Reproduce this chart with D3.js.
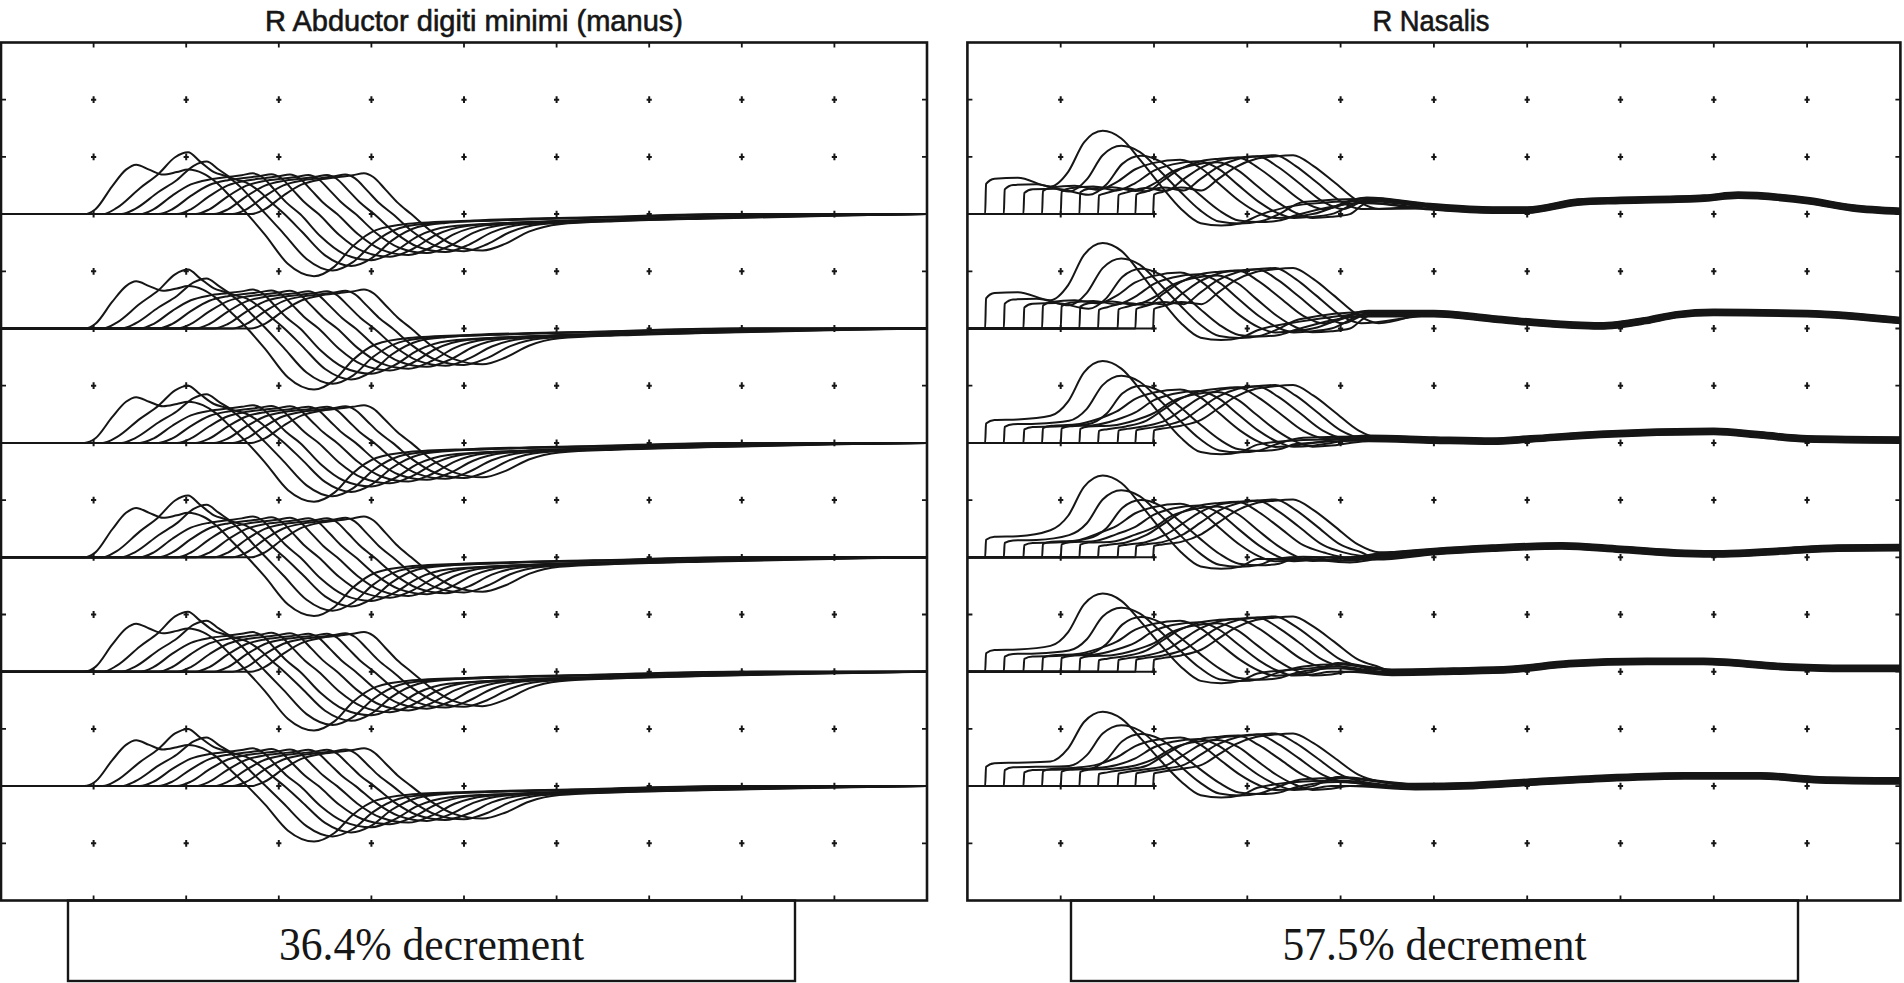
<!DOCTYPE html>
<html>
<head>
<meta charset="utf-8">
<script src="https://cdn.jsdelivr.net/npm/d3@7"></script>
<style>
  body { margin: 0; background: #fff; }
</style>
</head>
<body>
<div id="chart"></div>
<script>
// titles and labels
const titles = ["R Abductor digiti minimi (manus)", "R Nasalis"];
const decrements = ["36.4% decrement", "57.5% decrement"];

// screen grid: 10 x 15 divisions, one sweep every 2 divisions
const baseRows = [3, 5, 7, 9, 11, 13];

// ADM: waveform shapes [time from onset (div), amplitude (div)]
const admShapeA = [[0,0],[0.12,0.08],[0.3,0.45],[0.45,0.72],[0.56,0.8],[0.7,0.72],[0.85,0.64],[1.0,0.68],[1.12,0.72],[1.28,0.66],[1.42,0.52],[1.58,0.28],[1.76,0],[1.95,-0.32],[2.2,-0.78],[2.48,-0.97],[2.7,-0.82],[2.9,-0.5],[3.15,-0.25],[3.5,-0.15],[4.2,-0.1],[5.5,-0.05],[7,0]];
const admShapeB = [[0,0],[0.15,0.1],[0.4,0.42],[0.6,0.65],[0.78,0.92],[0.92,1.0],[1.05,0.85],[1.2,0.68],[1.35,0.6],[1.5,0.42],[1.62,0.22],[1.76,0],[1.95,-0.3],[2.2,-0.7],[2.48,-0.88],[2.7,-0.75],[2.92,-0.45],[3.2,-0.22],[3.5,-0.15],[4.2,-0.1],[5.5,-0.05],[7,0]];
const admShapeC = [[0,0],[0.15,0.08],[0.35,0.3],[0.55,0.48],[0.75,0.56],[0.95,0.6],[1.1,0.63],[1.22,0.66],[1.32,0.6],[1.45,0.4],[1.58,0.19],[1.73,0],[1.95,-0.28],[2.2,-0.5],[2.5,-0.58],[2.75,-0.47],[3.0,-0.28],[3.33,-0.16],[4,-0.11],[5,-0.07],[6.5,-0.02],[8,0]];
const admShapeOf = ["A","B","B","C","C","C","C","C","C","C"];
const admOnsets = [0.9, 1.1, 1.3, 1.5, 1.7, 1.9, 2.1, 2.3, 2.5, 2.7];
const admPos = [1, 1, 0.85, 1.0, 0.98, 0.97, 0.96, 0.96, 0.97, 1.0];
const admNeg = [1, 1, 0.92, 1.24, 1.15, 1.1, 1.05, 1.02, 1.0, 0.98];
const admRowPos = [1.08, 1.03, 1.0, 1.08, 1.05, 1.0];
const admRowNeg = [1.12, 1.1, 1.06, 1.06, 1.06, 1.0];

// Nasalis: shapes start with the stimulus artefact step
const nasShapeA = [[0,0],[0.01,0.34],[0.1,0.40],[0.35,0.41],[0.7,0.43],[0.89,0.66],[1.06,1.12],[1.26,1.30],[1.46,1.18],[1.67,0.83],[1.89,0.43],[2.1,0.08],[2.31,-0.16],[2.53,-0.2],[2.74,-0.16],[2.92,-0.03]];
const nasShapeB = [[0,0],[0.01,0.26],[0.1,0.3],[0.35,0.32],[0.6,0.38],[0.8,0.5],[1.0,0.7],[1.2,0.8],[1.48,0.85],[1.7,0.72],[1.9,0.47],[2.12,0.2],[2.32,0.02],[2.5,-0.07],[2.7,-0.05],[2.9,0.0]];
const nasShapeC = [[0,0],[0.01,0.22],[0.1,0.25],[0.3,0.3],[0.52,0.37],[0.7,0.55],[0.88,0.73],[1.1,0.86],[1.3,0.9],[1.5,0.92],[1.72,0.75],[1.94,0.5],[2.2,0.2],[2.42,0.08]];
const nasShapeOf = ["A","A","A","B","B","B","C","C","C","C"];
const nasOnsets = [0.19, 0.39, 0.6, 0.8, 1.0, 1.2, 1.4, 1.61, 1.8, 1.99];
const nasScale = [1.0, 0.82, 0.7, 1.0, 0.97, 0.95, 0.96, 0.98, 1.0, 1.0];
const nasRowPos = [1.12, 1.15, 1.1, 1.1, 1.05, 1.0];
const nasRowArt = [1.55, 1.55, 1.0, 0.9, 0.95, 1.0];
const nasTailOffset = [0.0, 0.04, -0.03, 0.06, 0.02, -0.04, 0.05, 0.01, -0.02, 0.03];
// late baseline wander, absolute time (div), one per sweep row
const nasTails = [
  [[3.0,0.05],[3.6,0.17],[4.28,0.23],[4.96,0.12],[5.63,0.06],[6.0,0.06],[6.54,0.2],[7.0,0.23],[7.9,0.27],[8.26,0.32],[9.03,0.22],[9.48,0.1],[10,0.04]],
  [[3.56,0.12],[4.3,0.25],[5.0,0.25],[5.63,0.16],[6.04,0.1],[6.78,0.035],[7.28,0.13],[7.6,0.23],[8.0,0.27],[9.0,0.25],[10,0.13]],
  [[3.6,0.05],[4.3,0.07],[5.0,0.04],[5.63,0.02],[6.04,0.06],[6.78,0.14],[8.0,0.19],[8.5,0.13],[9.0,0.06],[10,0.04]],
  [[3.6,-0.03],[4.1,-0.06],[4.39,0],[5.0,0.09],[5.63,0.15],[6.37,0.19],[7.0,0.13],[7.69,0.06],[8.1,0.05],[8.72,0.1],[9.33,0.15],[10,0.16]],
  [[3.6,0.05],[3.97,0.09],[4.55,-0.02],[5.21,0],[5.83,0.03],[6.45,0.13],[7.28,0.17],[7.89,0.17],[8.72,0.08],[9.33,0.05],[10,0.05]],
  [[3.6,0.08],[3.97,0.1],[4.8,-0.02],[5.42,0],[6.04,0.06],[6.86,0.13],[7.69,0.17],[8.5,0.17],[9.13,0.1],[10,0.08]]
];

const admShapes = {A: admShapeA, B: admShapeB, C: admShapeC};
const nasShapes = {A: nasShapeA, B: nasShapeB, C: nasShapeC};

const W = 1904, H = 983;
const frameTop = 42.5, frameBottom = 900.5;
const panels = [
  {x0: 1, x1: 927, titleX: 474, titleW: 418, box: [68, 795], textW: 305},
  {x0: 967.4, x1: 1900.4, titleX: 1431, titleW: 117, box: [1071, 1798], textW: 304}
];

const svg = d3.select('#chart').append('svg')
  .attr('width', W).attr('height', H)
  .style('background', '#fff');

const ink = '#161616';

function admTrace(i, r) {
  const pts = [[0, 0]];
  admShapes[admShapeOf[i]].forEach(([t, v]) => {
    const val = v >= 0 ? v * admPos[i] * admRowPos[r] : v * admNeg[i] * admRowNeg[r];
    if (admOnsets[i] + t <= 10) pts.push([admOnsets[i] + t, val]);
  });
  if (pts[pts.length - 1][0] < 10) pts.push([10, 0]);
  return pts;
}

function nasTrace(i, r) {
  const pts = [[0, 0]];
  const shape = nasShapes[nasShapeOf[i]];
  shape.forEach(([t, v]) => {
    const s = t < 0.5 ? nasScale[i] * nasRowArt[r] : nasScale[i] * nasRowPos[r];
    pts.push([nasOnsets[i] + t, v >= 0 ? v * s : v * nasScale[i]]);
  });
  const last = pts[pts.length - 1][0];
  nasTails[r].forEach(([x, v]) => {
    if (x > last + 0.1) pts.push([x, v + nasTailOffset[i]]);
  });
  return pts;
}

panels.forEach((p, pi) => {
  const x = d3.scaleLinear().domain([0, 10]).range([p.x0, p.x1]);
  const yDiv = d3.scaleLinear().domain([0, 15]).range([frameTop, frameBottom]);
  const g = svg.append('g');

  // title
  g.append('text')
    .attr('x', p.titleX).attr('y', 31)
    .attr('text-anchor', 'middle')
    .attr('font-family', 'Liberation Sans, Arial, sans-serif')
    .attr('font-size', 29)
    .attr('fill', ink)
    .attr('stroke', ink).attr('stroke-width', 0.6)
    .attr('textLength', p.titleW)
    .attr('lengthAdjust', 'spacingAndGlyphs')
    .text(titles[pi]);

  // grid crosses
  const cells = [];
  d3.range(1, 10).forEach(k => d3.range(1, 15).forEach(j => cells.push([k, j])));
  g.selectAll('path.dot').data(cells).enter().append('path')
    .attr('class', 'dot')
    .attr('d', d => `M${x(d[0]) - 2.6},${yDiv(d[1])}H${x(d[0]) + 2.6}M${x(d[0])},${yDiv(d[1]) - 3.4}V${yDiv(d[1]) + 3.4}`)
    .attr('stroke', ink).attr('stroke-width', 2);

  // border ticks
  const ticks = [];
  d3.range(1, 10).forEach(k => {
    ticks.push(`M${x(k)},${frameTop}V${frameTop + 5}`);
    ticks.push(`M${x(k)},${frameBottom}V${frameBottom - 5}`);
  });
  d3.range(1, 15).forEach(j => {
    ticks.push(`M${p.x0},${yDiv(j)}H${p.x0 + 5}`);
    ticks.push(`M${p.x1},${yDiv(j)}H${p.x1 - 5}`);
  });
  g.append('path').attr('d', ticks.join('')).attr('stroke', ink).attr('stroke-width', 1.8);

  // traces
  const clipId = 'clip' + pi;
  svg.append('clipPath').attr('id', clipId).append('rect')
    .attr('x', p.x0).attr('y', frameTop).attr('width', p.x1 - p.x0).attr('height', frameBottom - frameTop);
  const tg = g.append('g').attr('clip-path', `url(#${clipId})`);

  baseRows.forEach((b, r) => {
    const line = d3.line()
      .x(d => x(d[0]))
      .y(d => yDiv(b - d[1]))
      .curve(d3.curveMonotoneX);
    const traces = d3.range(10).map(i => pi === 0 ? admTrace(i, r) : nasTrace(i, r));
    tg.selectAll(null).data(traces).enter().append('path')
      .attr('d', line)
      .attr('fill', 'none')
      .attr('stroke', ink)
      .attr('stroke-width', 2)
      .attr('stroke-linejoin', 'round');
  });

  // frame
  g.append('rect')
    .attr('x', p.x0).attr('y', frameTop)
    .attr('width', p.x1 - p.x0).attr('height', frameBottom - frameTop)
    .attr('fill', 'none').attr('stroke', ink).attr('stroke-width', 2.6);

  // decrement box
  g.append('rect')
    .attr('x', p.box[0]).attr('y', frameBottom)
    .attr('width', p.box[1] - p.box[0]).attr('height', 981 - frameBottom)
    .attr('fill', 'none').attr('stroke', ink).attr('stroke-width', 2.4);
  g.append('text')
    .attr('x', (p.box[0] + p.box[1]) / 2).attr('y', 960)
    .attr('text-anchor', 'middle')
    .attr('font-family', 'Liberation Serif, Times New Roman, serif')
    .attr('font-size', 47)
    .attr('fill', ink)
    .attr('textLength', p.textW)
    .attr('lengthAdjust', 'spacingAndGlyphs')
    .text(decrements[pi]);
});
</script>
</body>
</html>
